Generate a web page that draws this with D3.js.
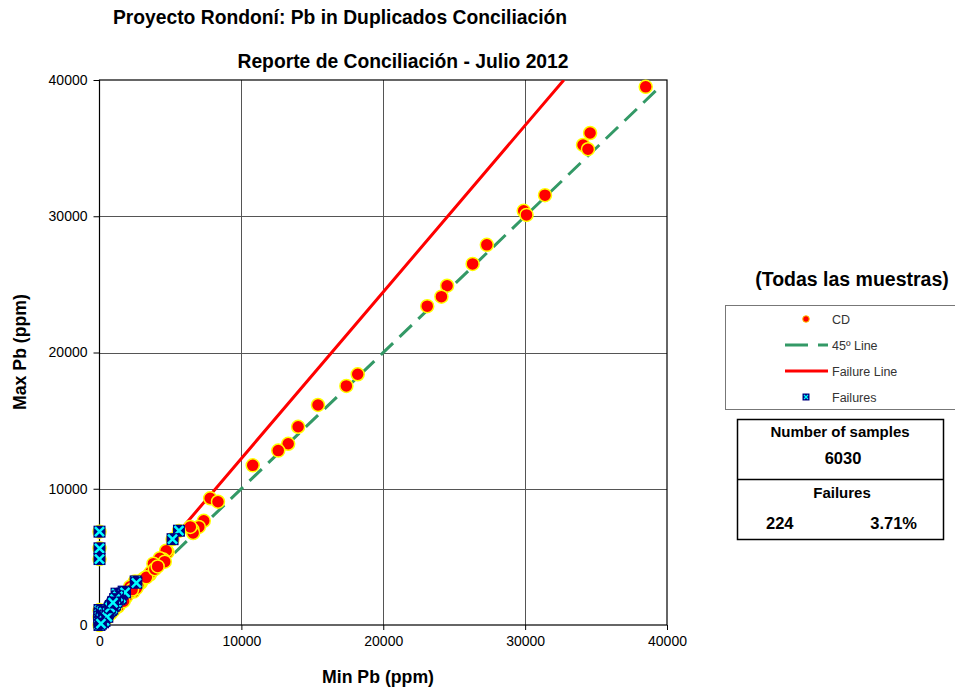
<!DOCTYPE html>
<html>
<head>
<meta charset="utf-8">
<script src="https://cdn.jsdelivr.net/npm/d3@7"></script>
<style>
  body { margin: 0; background: #fff; }
  svg { font-family: "Liberation Sans", Arial, sans-serif; }
</style>
</head>
<body>
<div id="chart"></div>
<script>
// duplicate pairs, [min, max] in ppm
var cdPoints = [
    [38500, 39500], [34580, 36110], [34080, 35230], [34430, 34920], [31400, 31550],
    [29900, 30400], [30100, 30100], [27300, 27900], [26300, 26500], [24500, 24900],
    [24100, 24100], [23100, 23400], [18200, 18400], [17400, 17550], [15400, 16150],
    [14000, 14550], [13300, 13300], [12600, 12800], [10800, 11720], [7800, 9300],
    [8350, 9050], [7350, 7650], [7000, 7200], [6550, 7000], [6600, 6750], [6400, 7200],
    [5600, 6900], [5150, 6300], [4800, 5350], [4700, 5450], [4500, 4800], [4250, 4900],
    [4600, 4650], [3800, 4500], [3550, 3700], [3600, 3850], [2900, 3100], [2500, 3200],
    [2150, 2800], [2400, 2450], [3000, 3300], [3200, 3450], [2700, 2900], [2600, 2700],
    [3300, 3500], [3900, 4100], [4100, 4300], [2000, 2300], [1800, 2000], [1600, 1800],
    [1900, 2100], [1400, 1500], [1500, 1700], [1200, 1400], [1300, 1350], [1000, 1100],
    [1100, 1250], [900, 1000], [800, 850], [700, 800], [600, 700], [500, 500], [400, 450],
    [300, 350], [200, 250], [150, 150], [100, 120], [50, 60], [0, 0], [0, 6850],
    [0, 5630], [0, 4840], [2200, 2450], [2300, 2600], [1700, 1750], [0, 1100], [0, 600]
];

// pairs outside the failure line
var failPoints = [
    [0, 6850], [0, 5630], [0, 4840], [5600, 6920], [5150, 6300], [2550, 3200],
    [2600, 3100], [1700, 2450], [1600, 2300], [1200, 2300], [1300, 1900], [1000, 1700],
    [900, 1500], [800, 1400], [700, 1200], [600, 1100], [500, 900], [400, 800],
    [300, 700], [200, 600], [100, 500], [50, 400], [0, 1100], [0, 800], [0, 600],
    [0, 400], [0, 200], [0, 0], [100, 300], [200, 400], [300, 500], [400, 600],
    [500, 800], [700, 1000], [800, 1100], [1000, 1400], [1100, 1500], [1400, 1900],
    [1500, 2000], [1800, 2400], [150, 1000], [300, 900], [250, 200], [450, 700],
    [600, 900], [900, 1200], [1200, 1700], [350, 300], [550, 600], [100, 100],
    [1300, 2100], [1100, 1900], [750, 1300], [950, 1650]
];

var lineX45 = [0, 39500];
var lineY45 = [0, 39500];
var failLineX = [0, 5000, 10000, 20000, 30000, 32730];
var failLineY = [0, 6110, 12220, 24440, 36670, 40000];

var xTicks = [0, 10000, 20000, 30000, 40000];
var yTicks = [0, 10000, 20000, 30000, 40000];

var nSamples = "6030";
var nFailures = "224";
var pctFailures = "3.71%";

var width = 955, height = 688;

var svg = d3.select("#chart").append("svg")
    .attr("width", width)
    .attr("height", height);

var x = d3.scaleLinear().domain([0, 40000]).range([99.5, 667]);
var y = d3.scaleLinear().domain([0, 40000]).range([625, 80]);

// titles
svg.append("text")
    .attr("x", 340).attr("y", 24)
    .attr("text-anchor", "middle")
    .attr("font-weight", "bold").attr("font-size", 19.3)
    .text("Proyecto Rondoní: Pb in Duplicados Conciliación");
svg.append("text")
    .attr("x", 403).attr("y", 68)
    .attr("text-anchor", "middle")
    .attr("font-weight", "bold").attr("font-size", 19.3)
    .text("Reporte de Conciliación - Julio 2012");

// grid
var grid = svg.append("g").attr("stroke", "#555").attr("stroke-width", 1);
grid.selectAll(".gx").data(xTicks.slice(1, -1)).join("line")
    .attr("x1", d => Math.round(x(d)) + 0.5).attr("x2", d => Math.round(x(d)) + 0.5)
    .attr("y1", y(40000)).attr("y2", y(0));
grid.selectAll(".gy").data(yTicks.slice(1, -1)).join("line")
    .attr("y1", d => Math.round(y(d)) + 0.5).attr("y2", d => Math.round(y(d)) + 0.5)
    .attr("x1", x(0)).attr("x2", x(40000));

svg.append("rect")
    .attr("x", x(0)).attr("y", y(40000))
    .attr("width", x(40000) - x(0)).attr("height", y(0) - y(40000))
    .attr("fill", "none").attr("stroke", "#000").attr("stroke-width", 1.2);

// axes
var xAxis = svg.append("g")
    .attr("transform", "translate(0," + y(0) + ")")
    .call(d3.axisBottom(x).tickValues(xTicks).tickFormat(d3.format("d")).tickSize(5).tickPadding(6));
var yAxis = svg.append("g")
    .attr("transform", "translate(" + x(0) + ",0)")
    .call(d3.axisLeft(y).tickValues(yTicks).tickFormat(d3.format("d")).tickSize(6).tickPadding(6));
[xAxis, yAxis].forEach(function (a) {
    a.select(".domain").remove();
    a.selectAll("line").attr("stroke", "#000");
    a.selectAll("text").attr("font-size", 14).attr("fill", "#000")
        .attr("font-family", "'Liberation Sans', Arial, sans-serif");
});

svg.append("text")
    .attr("x", 378).attr("y", 683)
    .attr("text-anchor", "middle")
    .attr("font-weight", "bold").attr("font-size", 17.7)
    .text("Min Pb (ppm)");
svg.append("text")
    .attr("transform", "translate(26,352) rotate(-90)")
    .attr("text-anchor", "middle")
    .attr("font-weight", "bold").attr("font-size", 17.7)
    .text("Max Pb (ppm)");

// lines
var clip = svg.append("clipPath").attr("id", "plotclip").append("rect")
    .attr("x", x(0)).attr("y", y(40000))
    .attr("width", x(40000) - x(0)).attr("height", y(0) - y(40000));

var line = d3.line().x(d => x(d[0])).y(d => y(d[1]));

svg.append("path")
    .datum(d3.zip(lineX45, lineY45))
    .attr("d", line)
    .attr("fill", "none").attr("stroke", "#339966")
    .attr("stroke-width", 3).attr("stroke-dasharray", "17,9");

svg.append("path")
    .datum(d3.zip(failLineX, failLineY))
    .attr("d", line)
    .attr("clip-path", "url(#plotclip)")
    .attr("fill", "none").attr("stroke", "#ff0000")
    .attr("stroke-width", 3);

// CD points
svg.append("g").selectAll("circle")
    .data(cdPoints).join("circle")
    .attr("cx", d => x(d[0])).attr("cy", d => y(d[1]))
    .attr("r", 6.5)
    .attr("fill", "#ff0000").attr("stroke", "#ffff00").attr("stroke-width", 1.5);

// failure markers
function failMarker(g, s) {
    g.append("rect")
        .attr("x", -s).attr("y", -s).attr("width", 2 * s).attr("height", 2 * s)
        .attr("fill", "#000080");
    g.append("path")
        .attr("d", "M" + (-s + 1.5) + "," + (-s + 1.5) + "L" + (s - 1.5) + "," + (s - 1.5) +
            "M" + (s - 1.5) + "," + (-s + 1.5) + "L" + (-s + 1.5) + "," + (s - 1.5))
        .attr("stroke", "#00ffff").attr("stroke-width", s > 4 ? 2.5 : 1.2);
}

svg.append("g").selectAll("g")
    .data(failPoints).join("g")
    .attr("transform", d => "translate(" + x(d[0]) + "," + y(d[1]) + ")")
    .each(function () { failMarker(d3.select(this), 6); });

// legend
svg.append("text")
    .attr("x", 852).attr("y", 286)
    .attr("text-anchor", "middle")
    .attr("font-weight", "bold").attr("font-size", 19.5)
    .text("(Todas las muestras)");

var legend = svg.append("g");
legend.append("rect")
    .attr("x", 725.5).attr("y", 305.5).attr("width", 240).attr("height", 104)
    .attr("fill", "#fff").attr("stroke", "#777").attr("stroke-width", 1);

var legendItems = ["CD", "45º Line", "Failure Line", "Failures"];
var legendY = [319, 345, 371, 397];
legendItems.forEach(function (name, i) {
    var ly = legendY[i];
    legend.append("text")
        .attr("x", 832).attr("y", ly + 4.5)
        .attr("font-size", 12.5).attr("fill", "#333")
        .text(name);
    if (i === 0) {
        legend.append("circle").attr("cx", 806).attr("cy", ly).attr("r", 3.3)
            .attr("fill", "#ff0000").attr("stroke", "#ffcc00").attr("stroke-width", 1);
    } else if (i === 1) {
        legend.append("line").attr("x1", 785).attr("x2", 828).attr("y1", ly).attr("y2", ly)
            .attr("stroke", "#339966").attr("stroke-width", 3).attr("stroke-dasharray", "23,10");
    } else if (i === 2) {
        legend.append("line").attr("x1", 785).attr("x2", 828).attr("y1", ly).attr("y2", ly)
            .attr("stroke", "#ff0000").attr("stroke-width", 3);
    } else {
        var g = legend.append("g").attr("transform", "translate(806," + ly + ")");
        failMarker(g, 3.5);
    }
});

// stats box
var stats = svg.append("g");
stats.append("rect")
    .attr("x", 737.5).attr("y", 419.5).attr("width", 206).attr("height", 120)
    .attr("fill", "none").attr("stroke", "#000").attr("stroke-width", 1.5);
stats.append("line")
    .attr("x1", 737.5).attr("x2", 943.5).attr("y1", 479.5).attr("y2", 479.5)
    .attr("stroke", "#000").attr("stroke-width", 1.5);

var statTexts = [
    { t: "Number of samples", x: 840, y: 437, a: "middle", s: 15 },
    { t: nSamples, x: 843, y: 464, a: "middle", s: 16.5 },
    { t: "Failures", x: 842, y: 498, a: "middle", s: 15 },
    { t: nFailures, x: 766, y: 529, a: "start", s: 16.5 },
    { t: pctFailures, x: 917, y: 529, a: "end", s: 16.5 }
];
stats.selectAll("text").data(statTexts).join("text")
    .attr("x", d => d.x).attr("y", d => d.y)
    .attr("text-anchor", d => d.a)
    .attr("font-weight", "bold").attr("font-size", d => d.s)
    .text(d => d.t);
</script>
</body>
</html>
